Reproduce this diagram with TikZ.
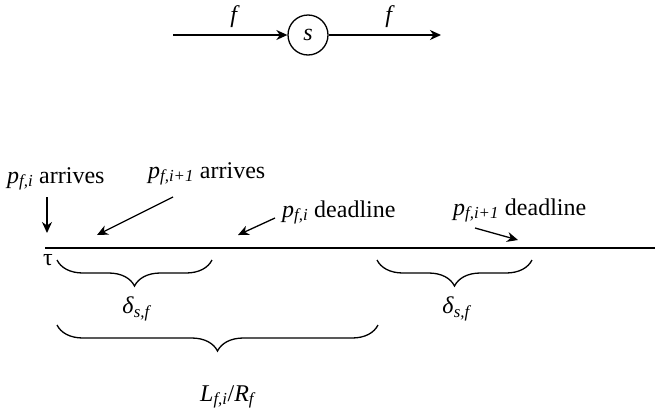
\documentclass[tikz,border=0pt]{standalone}
\usepackage{fontspec}
\setmainfont{Liberation Serif}
\usetikzlibrary{arrows.meta,decorations.pathreplacing}
\newcommand\lsub[1]{\textsubscript{\itshape #1}}
\begin{document}
\begin{tikzpicture}[x=1pt,y=-1pt,
  txt/.style={font=\fontsize{24}{28}\selectfont},
  arr/.style={line width=1.3pt,-{Stealth[length=11pt,width=10pt,inset=3.5pt]}},
  brc/.style={decorate,decoration={brace,mirror,amplitude=26pt},line width=1.3pt},
  lbl/.style={txt,inner sep=0pt,anchor=base west},
  lab/.style={txt,inner sep=0pt,anchor=north}]
\useasboundingbox (0,0) rectangle (655,410);
% top flow
\node[txt,circle,draw,line width=1.3pt,minimum size=40pt,inner sep=0pt] (s) at (308,35) {\textit{s}};
\coordinate (in) at (173,35);
\coordinate (out) at (441,35);
\draw[arr] (in) -- (s);
\draw[arr] (s) -- (out);
\node[txt] (f1) at (235,17) {\textit{f}};
\node[txt] (f2) at (390,17) {\textit{f}};
% timeline
\coordinate (t0) at (45,248);
\coordinate (t1) at (655,248);
\draw[line width=2pt] (t0) -- (t1);
\node[lbl] (tau) at (43,265) {τ};
% event labels
\node[lbl] (a1) at (7,183) {\textit{p}\lsub{f,i} arrives};
\node[lbl] (a2) at (148,178) {\textit{p}\lsub{f,i+1} arrives};
\node[lbl] (d1) at (282,217) {\textit{p}\lsub{f,i} deadline};
\node[lbl] (d2) at (453,215) {\textit{p}\lsub{f,i+1} deadline};
\coordinate (a1s) at (47,197); \coordinate (a1e) at (47,233);
\coordinate (a2s) at (173,197); \coordinate (a2e) at (97,235);
\coordinate (d1s) at (275,218); \coordinate (d1e) at (238,235);
\coordinate (d2s) at (475,228); \coordinate (d2e) at (518,240);
\draw[arr] (a1s) -- (a1e);
\draw[arr] (a2s) -- (a2e);
\draw[arr] (d1s) -- (d1e);
\draw[arr] (d2s) -- (d2e);
% braces
\coordinate (b1l) at (57,260); \coordinate (b1r) at (212,260);
\coordinate (b2l) at (377,260); \coordinate (b2r) at (532,260);
\coordinate (b3l) at (57,325); \coordinate (b3r) at (378,325);
\draw[brc] (b1l) -- (b1r);
\draw[brc] (b2l) -- (b2r);
\draw[brc] (b3l) -- (b3r);
\node[lab] (dl1) at (136,297) {\textit{δ}\lsub{s,f}};
\node[lab] (dl2) at (456,297) {\textit{δ}\lsub{s,f}};
\node[lbl] (lr) at (200,401) {\textit{L}\lsub{f,i}/\textit{R}\lsub{f}};
\end{tikzpicture}
\end{document}
